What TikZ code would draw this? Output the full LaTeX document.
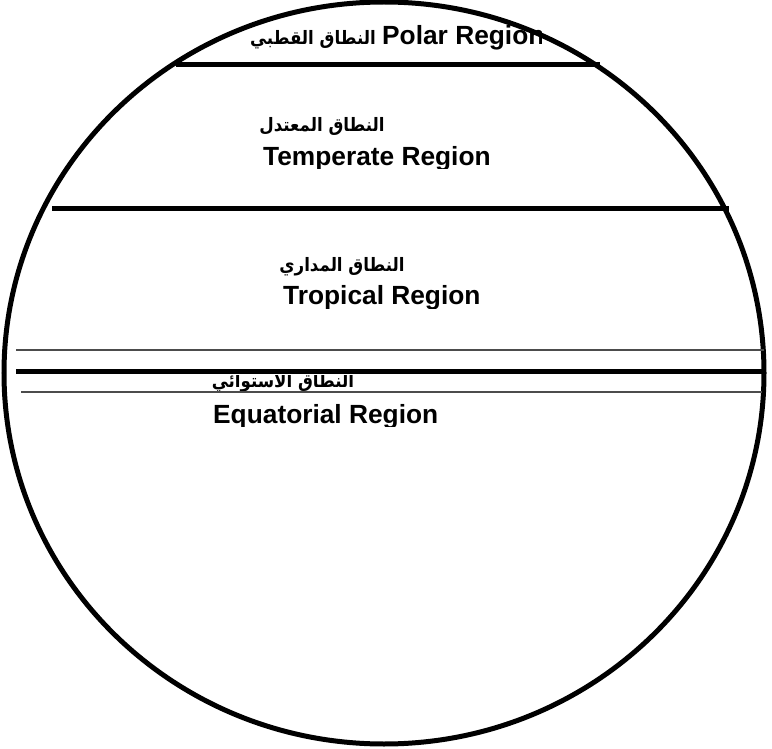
\documentclass[tikz,border=0pt]{standalone}
\usepackage{fontspec}
\setmainfont{Liberation Sans}
\newfontfamily\arabicfont[Script=Arabic,FakeStretch=0.9]{DejaVu Sans}
\TeXXeTstate=1
\begin{document}
\begin{tikzpicture}[x=1pt,y=-1pt,
  rim/.style={line width=5pt},
  band/.style={line width=5pt},
  fine/.style={line width=1.2pt, draw=black!70},
  en/.style={font=\bfseries\fontsize{26.3}{30}\selectfont, inner sep=0pt, anchor=base west},
  ar/.style={font=\arabicfont\bfseries\fontsize{18.5}{22}\selectfont, inner sep=0pt}]
\useasboundingbox (0,0) rectangle (772,749);

% the globe
\draw[rim] (384,373) ellipse [x radius=380, y radius=371];

% zone labels (descenders trimmed by their boxes)
\node[ar] (polarAr) at (313,40) {\beginR النطاق القطبي\endR};
\begin{scope}
  \clip (370,10) rectangle (541,60);
  \node[en] (polarEn) at (382,45) {Polar Region};
\end{scope}

\node[ar] (tempAr) at (322,126) {\beginR النطاق المعتدل\endR};
\begin{scope}
  \clip (250,130) rectangle (520,169);
  \node[en] (tempEn) at (263,166) {Temperate Region};
\end{scope}

\node[ar] (tropAr) at (342,267) {\beginR النطاق المداري\endR};
\begin{scope}
  \clip (270,270) rectangle (500,308);
  \node[en] (tropEn) at (283,305) {Tropical Region};
\end{scope}

\begin{scope}
  \clip (200,375) rectangle (400,400);
  \node[ar] (equAr) at (283,383) {\beginR النطاق الاستوائي\endR};
\end{scope}
\begin{scope}
  \clip (200,395) rectangle (460,426);
  \node[en] (equEn) at (213,423) {Equatorial Region};
\end{scope}

% zone boundaries
\coordinate (pL) at (176,65);  \coordinate (pR) at (600,65);
\coordinate (tL) at (52,209);  \coordinate (tR) at (729,209);
\coordinate (aL) at (16,350);  \coordinate (aR) at (764,350);
\coordinate (eL) at (16,371);  \coordinate (eR) at (765,371);
\coordinate (bL) at (21,392);  \coordinate (bR) at (762,392);
\draw[band] (pL) -- (pR);
\draw[band] (tL) -- (tR);
\draw[fine] (aL) -- (aR);
\draw[fine] (bL) -- (bR);
\draw[band] (eL) -- (eR);
\end{tikzpicture}
\end{document}
